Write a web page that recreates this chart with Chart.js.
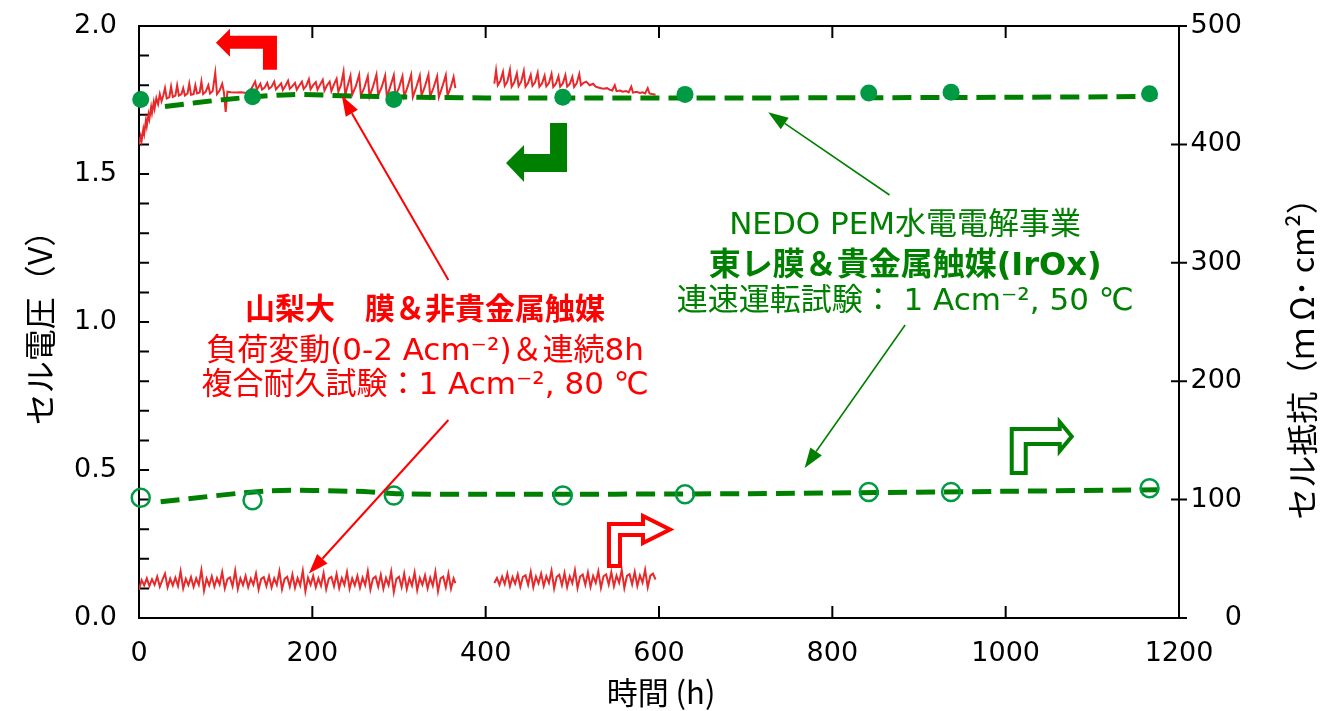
<!DOCTYPE html>
<html><head><meta charset="utf-8">
<script src="https://cdn.jsdelivr.net/npm/chart.js@4.4.1/dist/chart.umd.min.js"></script>
<style>html,body{margin:0;padding:0;background:#fff;}canvas{display:block;}</style>
</head><body>
<canvas id="c" width="1321" height="711"></canvas>
<script>
// ---- tick labels ----
const xTicks = [0, 200, 400, 600, 800, 1000, 1200];
const vTicks = [0.0, 0.5, 1.0, 1.5, 2.0];
const rTicks = [0, 100, 200, 300, 400, 500];

// ---- Toray membrane & IrOx (NEDO) : sampled points ----
const toraySampleTimes = [2, 131, 294, 489, 630, 842, 937, 1166];
const torayVoltage     = [1.752, 1.761, 1.752, 1.759, 1.769, 1.774, 1.776, 1.771];
const torayResistance  = [101.5, 99.5, 103.5, 103.5, 104.5, 106.5, 106.5, 109.5];

// trend (dashed) lines
const torayVoltFitT = [30, 100, 175, 250, 400, 700, 1000, 1175];
const torayVoltFitV = [1.728, 1.752, 1.768, 1.763, 1.757, 1.757, 1.759, 1.762];
const torayResFitT  = [25, 150, 250, 300, 400, 700, 1000, 1175];
const torayResFitR  = [98.2, 107.3, 107.0, 105.0, 104.5, 105.0, 107.0, 108.3];

// ---- Yamanashi Univ. membrane & non-precious catalyst : cell voltage [h, V] ----
const yamaVoltSeg1 = [[0,1.600],[2,1.628],[3,1.612],[5,1.652],[6,1.636],[8,1.682],[9,1.662],[11,1.702],[12,1.686],[14,1.726],[15,1.706],[17,1.742],[18,1.722],[20,1.756],[22,1.736],[24,1.770],[26,1.746],[28,1.765],[30,1.790],[32,1.755],[35,1.760],[37,1.795],[39,1.760],[42,1.765],[44,1.800],[46,1.765],[49,1.770],[51,1.790],[53,1.765],[56,1.772],[58,1.805],[60,1.768],[63,1.770],[65,1.800],[67,1.772],[70,1.775],[72,1.812],[74,1.770],[77,1.778],[80,1.800],[82,1.772],[85,1.780],[88,1.842],[90,1.770],[93,1.782],[96,1.805],[98,1.776],[100,1.710],[102,1.778],[106,1.776],[112,1.775],[118,1.776],[124,1.774],[127,1.780],[130,1.790],[134,1.812],[136,1.785],[140,1.805],[142,1.785],[145,1.792],[148,1.808],[150,1.788],[153,1.795],[156,1.812],[158,1.786],[161,1.796],[164,1.806],[166,1.784],[169,1.798],[172,1.815],[174,1.788],[177,1.797],[180,1.808],[182,1.785],[185,1.799],[188,1.812],[190,1.787],[193,1.798],[196,1.820],[198,1.786],[201,1.800],[204,1.810],[206,1.785],[209,1.802],[212,1.818],[214,1.782],[217,1.800],[220,1.812],[222,1.780],[225,1.803],[228,1.822],[230,1.778],[233,1.800],[236,1.845],[238,1.765],[240,1.790],[244,1.832],[246,1.768],[250,1.795],[254,1.835],[256,1.765],[260,1.792],[264,1.830],[266,1.762],[270,1.795],[274,1.836],[276,1.766],[280,1.793],[284,1.832],[286,1.760],[290,1.796],[294,1.834],[296,1.764],[300,1.792],[304,1.830],[306,1.762],[310,1.795],[314,1.835],[316,1.760],[320,1.794],[324,1.832],[326,1.765],[330,1.797],[334,1.836],[336,1.762],[340,1.793],[344,1.830],[346,1.760],[350,1.795],[354,1.834],[356,1.764],[360,1.796],[363,1.828],[365,1.790]];
const yamaVoltSeg2 = [[410,1.805],[412,1.850],[414,1.800],[417,1.815],[420,1.845],[422,1.798],[425,1.812],[428,1.852],[430,1.795],[433,1.810],[436,1.840],[438,1.797],[441,1.812],[444,1.848],[446,1.795],[449,1.808],[452,1.835],[454,1.798],[457,1.810],[460,1.842],[462,1.795],[465,1.806],[468,1.832],[470,1.796],[473,1.807],[476,1.838],[478,1.794],[481,1.805],[484,1.830],[486,1.795],[489,1.806],[492,1.834],[494,1.795],[497,1.804],[500,1.828],[502,1.794],[505,1.806],[508,1.838],[510,1.800],[513,1.808],[516,1.812],[520,1.800],[524,1.805],[527,1.795],[530,1.792],[533,1.790],[536,1.788],[540,1.790],[543,1.785],[546,1.782],[549,1.800],[551,1.780],[555,1.782],[558,1.778],[562,1.780],[565,1.776],[568,1.795],[570,1.775],[574,1.778],[578,1.774],[581,1.776],[584,1.772],[587,1.790],[589,1.772],[592,1.770],[596,1.768]];

// ---- Yamanashi : cell resistance, plotted on the voltage axis [h, value] ----
const yamaResSeg1 = [[0,0.095],[3,0.128],[6,0.110],[9,0.134],[12,0.108],[15,0.131],[18,0.112],[21,0.140],[24,0.106],[27,0.129],[30,0.150],[33,0.104],[36,0.133],[39,0.110],[42,0.136],[45,0.108],[48,0.158],[51,0.100],[54,0.132],[57,0.111],[60,0.138],[63,0.105],[66,0.134],[69,0.112],[72,0.162],[75,0.092],[78,0.133],[81,0.110],[84,0.141],[87,0.106],[90,0.135],[93,0.113],[96,0.155],[99,0.100],[102,0.131],[105,0.137],[108,0.107],[111,0.160],[114,0.098],[117,0.134],[120,0.111],[123,0.142],[126,0.104],[129,0.133],[132,0.112],[135,0.150],[138,0.096],[141,0.132],[144,0.138],[147,0.108],[150,0.141],[153,0.103],[156,0.134],[159,0.112],[162,0.158],[165,0.097],[168,0.132],[171,0.139],[174,0.106],[177,0.147],[180,0.102],[183,0.135],[186,0.110],[189,0.160],[192,0.090],[195,0.136],[198,0.112],[201,0.142],[204,0.104],[207,0.134],[210,0.109],[213,0.152],[216,0.097],[219,0.133],[222,0.139],[225,0.107],[228,0.148],[231,0.101],[234,0.135],[237,0.112],[240,0.155],[243,0.099],[246,0.134],[249,0.110],[252,0.142],[255,0.102],[258,0.136],[261,0.111],[264,0.158],[267,0.096],[270,0.133],[273,0.140],[276,0.106],[279,0.146],[282,0.099],[285,0.135],[288,0.111],[291,0.157],[294,0.088],[297,0.132],[300,0.139],[303,0.105],[306,0.150],[309,0.098],[312,0.134],[315,0.110],[318,0.154],[321,0.094],[324,0.135],[327,0.112],[330,0.144],[333,0.100],[336,0.136],[339,0.109],[342,0.156],[345,0.090],[348,0.134],[351,0.140],[354,0.104],[357,0.150],[360,0.099],[363,0.134],[365,0.118]];
const yamaResSeg2 = [[410,0.118],[413,0.135],[416,0.112],[419,0.140],[422,0.115],[425,0.150],[428,0.108],[431,0.138],[434,0.116],[437,0.148],[440,0.105],[443,0.139],[446,0.144],[449,0.112],[452,0.156],[455,0.104],[458,0.140],[461,0.117],[464,0.150],[467,0.108],[470,0.141],[473,0.118],[476,0.160],[479,0.100],[482,0.139],[485,0.146],[488,0.111],[491,0.152],[494,0.104],[497,0.141],[500,0.118],[503,0.162],[506,0.101],[509,0.140],[512,0.147],[515,0.112],[518,0.154],[521,0.105],[524,0.142],[527,0.119],[530,0.158],[533,0.102],[536,0.141],[539,0.147],[542,0.113],[545,0.155],[548,0.107],[551,0.143],[554,0.119],[557,0.162],[560,0.101],[563,0.142],[566,0.148],[569,0.114],[572,0.156],[575,0.108],[578,0.144],[581,0.120],[584,0.163],[587,0.104],[590,0.143],[593,0.150],[596,0.130]];

// ---- styles ----
const NUMFONT = '"DejaVu Sans", Verdana, sans-serif';
const TXTFONT = '"DejaVu Sans", "Noto Sans CJK JP", sans-serif';
const CJKFONT = '"Noto Sans CJK JP", "DejaVu Sans", sans-serif';
const RED_LINE = '#e8292b', RED = '#ff0000', GREEN = '#008000', GREEN_MK = '#009944';

const pairsToPts = a => a.map(p => ({x: p[0], y: p[1]}));
const zipPts = (t, v) => t.map((x, i) => ({x, y: v[i]}));
const gap = {x: 388, y: null};

function arrowLine(ctx, x1, y1, x2, y2, color, lw) {
  const a = Math.atan2(y2 - y1, x2 - x1), L = 20, W = 7;
  const bx = x2 - L * Math.cos(a), by = y2 - L * Math.sin(a);
  ctx.strokeStyle = color; ctx.lineWidth = lw;
  ctx.beginPath(); ctx.moveTo(x1, y1); ctx.lineTo(bx, by); ctx.stroke();
  ctx.fillStyle = color; ctx.beginPath();
  ctx.moveTo(x2, y2);
  ctx.lineTo(bx + W * Math.sin(a), by - W * Math.cos(a));
  ctx.lineTo(bx - W * Math.sin(a), by + W * Math.cos(a));
  ctx.closePath(); ctx.fill();
}
function poly(ctx, ox, oy, pts, color, fill, lw) {
  ctx.beginPath();
  pts.forEach((p, i) => i ? ctx.lineTo(ox + p[0], oy + p[1]) : ctx.moveTo(ox + p[0], oy + p[1]));
  ctx.closePath();
  if (fill) { ctx.fillStyle = color; ctx.fill(); }
  else { ctx.fillStyle = '#fff'; ctx.fill(); ctx.strokeStyle = color; ctx.lineWidth = lw; ctx.lineJoin = 'miter'; ctx.stroke(); }
}
function text(ctx, s, x, y, font, color) {
  ctx.font = font; ctx.fillStyle = color; ctx.textAlign = 'center'; ctx.textBaseline = 'middle';
  ctx.fillText(s, x, y);
}
function noEdgePadding(s) { s.paddingTop = 0; s.paddingBottom = 0; s.paddingLeft = 0; s.paddingRight = 0; }

const frame = {
  id: 'frame',
  beforeDraw(chart) {
    const c = chart.ctx; c.save(); c.fillStyle = '#fff'; c.fillRect(0, 0, chart.width, chart.height); c.restore();
  },
  beforeDatasetsDraw(chart) {
    const {ctx, chartArea: a, scales: {x, y, y2}} = chart;
    ctx.save();
    ctx.strokeStyle = '#000'; ctx.lineWidth = 2;
    ctx.strokeRect(a.left, a.top, a.right - a.left, a.bottom - a.top);
    ctx.beginPath();
    xTicks.forEach(v => {
      const px = x.getPixelForValue(v);
      ctx.moveTo(px, a.bottom); ctx.lineTo(px, a.bottom - 12);
      ctx.moveTo(px, a.top); ctx.lineTo(px, a.top + 12);
    });
    for (let i = 0; i <= 20; i++) {
      const py = y.getPixelForValue(i / 10);
      ctx.moveTo(a.left, py); ctx.lineTo(a.left + 10, py);
    }
    rTicks.forEach(v => {
      const py = y2.getPixelForValue(v);
      ctx.moveTo(a.right - 8, py); ctx.lineTo(a.right + 8, py);
    });
    ctx.stroke();
    ctx.restore();
  },
  afterDatasetsDraw(chart) {
    const {ctx, chartArea: a, scales: {x, y}} = chart;
    const P = (h, v) => [x.getPixelForValue(h), y.getPixelForValue(v)];
    ctx.save();
    // pointer arrows
    let p1, p2;
    p1 = P(357, 1.142); p2 = P(234, 1.764); arrowLine(ctx, p1[0], p1[1], p2[0], p2[1], RED, 2);
    p1 = P(357, 0.669); p2 = P(196, 0.150); arrowLine(ctx, p1[0], p1[1], p2[0], p2[1], RED, 2);
    p1 = P(866, 1.429); p2 = P(726, 1.709); arrowLine(ctx, p1[0], p1[1], p2[0], p2[1], GREEN, 1.6);
    p1 = P(884, 0.990); p2 = P(768, 0.507); arrowLine(ctx, p1[0], p1[1], p2[0], p2[1], GREEN, 1.6);
    // block arrows (axis indicators)
    p1 = P(88.8, 1.943);
    poly(ctx, p1[0], p1[1], [[0,0],[14,-14],[14,-7],[61,-7],[61,27],[47,27],[47,6],[14,6],[14,14]], RED, true);
    p1 = P(423.5, 1.537);
    poly(ctx, p1[0], p1[1], [[0,0],[18,-18],[18,-9],[44,-9],[44,-40],[61,-40],[61,9],[18,9],[18,19]], GREEN, true);
    p1 = P(1007, 0.490);
    poly(ctx, p1[0], p1[1], [[0,0],[0,-44],[48,-44],[48,-51],[60,-36.5],[48,-22],[48,-29],[14,-29],[14,0]], GREEN, false, 4);
    p1 = P(542.3, 0.1757);
    poly(ctx, p1[0], p1[1], [[0,0],[0,-42],[34,-42],[34,-50],[61,-36.5],[34,-23],[34,-31],[11,-31],[11,0]], RED, false, 4);
    // annotation texts
    let t = P(330, 1.037); text(ctx, '山梨大　膜＆非貴金属触媒', t[0], t[1], 'bold 30px ' + TXTFONT, RED);
    t = P(330, 0.899); text(ctx, '負荷変動(0-2 Acm⁻²)＆連続8h', t[0], t[1], '31px ' + TXTFONT, RED);
    t = P(330, 0.784); text(ctx, '複合耐久試験：1 Acm⁻², 80 ℃', t[0], t[1], '31px ' + TXTFONT, RED);
    t = P(884, 1.324); text(ctx, 'NEDO PEM水電電解事業', t[0], t[1], '31px ' + TXTFONT, GREEN);
    t = P(884, 1.186); text(ctx, '東レ膜＆貴金属触媒(IrOx)', t[0], t[1], 'bold 32px ' + TXTFONT, GREEN);
    t = P(884, 1.068); text(ctx, '連速運転試験： 1 Acm⁻², 50 ℃', t[0], t[1], '31px ' + TXTFONT, GREEN);
    // axis titles
    ctx.save(); ctx.translate(40, 320); ctx.rotate(-Math.PI / 2);
    text(ctx, 'セル電圧（V）', 0, 0, '32px ' + CJKFONT, '#000'); ctx.restore();
    ctx.save(); ctx.translate(1302, 351); ctx.rotate(-Math.PI / 2);
    text(ctx, 'セル抵抗（ｍ Ω･ cm²）', 0, 0, '32px ' + CJKFONT, '#000'); ctx.restore();
    text(ctx, '時間 (h)', 661, 692, '31px ' + CJKFONT, '#000');
    ctx.restore();
  }
};

new Chart(document.getElementById('c'), {
  type: 'line',
  data: {
    datasets: [
      { label: 'Toray voltage', data: zipPts(toraySampleTimes, torayVoltage), yAxisID: 'y', showLine: false,
        pointRadius: 8.5, pointBackgroundColor: GREEN_MK, pointBorderColor: GREEN_MK, pointBorderWidth: 0, clip: false, order: 0 },
      { label: 'Toray resistance', data: zipPts(toraySampleTimes, torayResistance), yAxisID: 'y2', showLine: false,
        pointRadius: 9, pointBackgroundColor: 'rgba(255,255,255,0)', pointBorderColor: GREEN_MK, pointBorderWidth: 2.5, clip: false, order: 0 },
      { label: 'Toray voltage trend', data: zipPts(torayVoltFitT, torayVoltFitV), yAxisID: 'y', borderColor: GREEN,
        borderWidth: 5, borderDash: [19, 9], pointRadius: 0, tension: 0.3, fill: false, order: 1 },
      { label: 'Toray resistance trend', data: zipPts(torayResFitT, torayResFitR), yAxisID: 'y2', borderColor: GREEN,
        borderWidth: 5, borderDash: [19, 9], pointRadius: 0, tension: 0.3, fill: false, order: 1 },
      { label: 'Yamanashi voltage', data: [...pairsToPts(yamaVoltSeg1), gap, ...pairsToPts(yamaVoltSeg2)], yAxisID: 'y',
        borderColor: RED_LINE, borderWidth: 2, pointRadius: 0, spanGaps: false, tension: 0, order: 2 },
      { label: 'Yamanashi resistance', data: [...pairsToPts(yamaResSeg1), gap, ...pairsToPts(yamaResSeg2)], yAxisID: 'y',
        borderColor: RED_LINE, borderWidth: 2, pointRadius: 0, spanGaps: false, tension: 0, order: 2 }
    ]
  },
  options: {
    responsive: false, animation: false, devicePixelRatio: 1,
    layout: { padding: { left: 0, right: 79, top: 26, bottom: 0 } },
    plugins: { legend: { display: false }, tooltip: { enabled: false } },
    scales: {
      x: { type: 'linear', position: 'bottom', min: 0, max: 1200,
        afterFit(s) { s.height = 93; noEdgePadding(s); },
        afterBuildTicks(s) { s.ticks = xTicks.map(v => ({ value: v })); },
        ticks: { font: { family: NUMFONT, size: 27 }, color: '#000', padding: 12, maxRotation: 0, autoSkip: false,
          callback: v => String(v) },
        grid: { display: false }, border: { display: false } },
      y: { type: 'linear', position: 'left', min: 0, max: 2,
        afterFit(s) { s.width = 139; noEdgePadding(s); },
        afterBuildTicks(s) { s.ticks = vTicks.map(v => ({ value: v })); },
        ticks: { font: { family: NUMFONT, size: 27 }, color: '#000', padding: 14, callback: v => v.toFixed(1) },
        grid: { display: false }, border: { display: false } },
      y2: { type: 'linear', position: 'right', min: 0, max: 500,
        afterFit(s) { s.width = 63; noEdgePadding(s); },
        afterBuildTicks(s) { s.ticks = rTicks.map(v => ({ value: v })); },
        ticks: { font: { family: NUMFONT, size: 27 }, color: '#000', crossAlign: 'far', padding: 16, callback: v => String(v) },
        grid: { display: false }, border: { display: false } }
    }
  },
  plugins: [frame]
});
</script>
</body></html>
